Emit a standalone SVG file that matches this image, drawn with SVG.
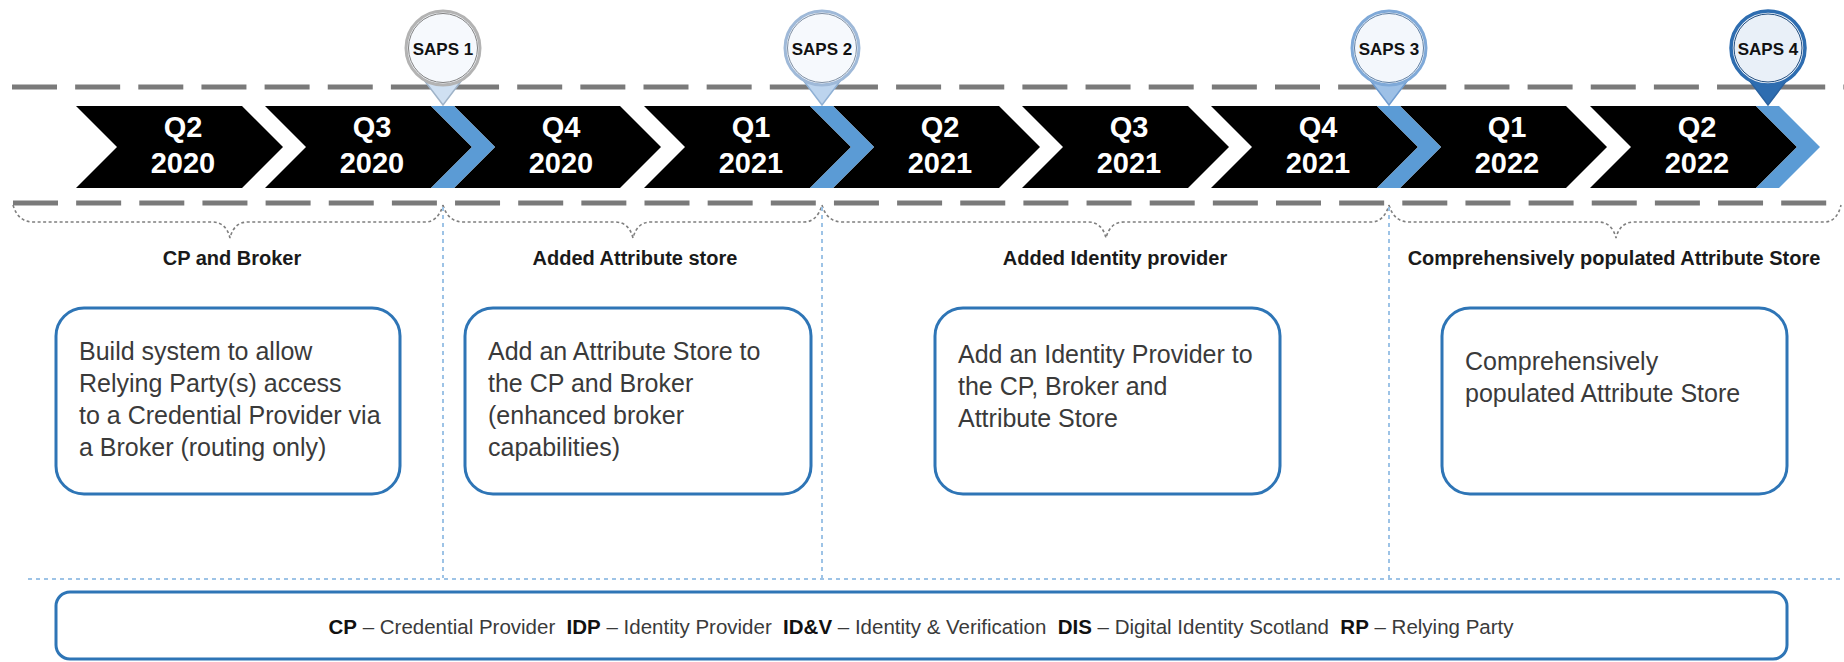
<svg xmlns="http://www.w3.org/2000/svg" width="1844" height="662" viewBox="0 0 1844 662">
<style>
.rail{stroke:#7a7a7a;stroke-width:5;stroke-dasharray:45 18.15;fill:none}
.chev{fill:#000}
.band{fill:#5b9bd5}
.q{font-family:"Liberation Sans",Arial,sans-serif;font-weight:bold;font-size:29px;fill:#fff;text-anchor:middle}
.pin-t{font-family:"Liberation Sans",Arial,sans-serif;font-weight:bold;font-size:17px;fill:#111;text-anchor:middle}
.brace{fill:none;stroke:#7f7f7f;stroke-width:1.6;stroke-dasharray:3 2.5}
.vdot{fill:none;stroke:#9dc3e6;stroke-width:2;stroke-dasharray:4 4}
.lbl{font-family:"Liberation Sans",Arial,sans-serif;font-weight:bold;font-size:20px;fill:#1a1a1a;text-anchor:middle}
.box{fill:#fff;stroke:#2e75b6;stroke-width:3}
.bt{font-family:"Liberation Sans",Arial,sans-serif;font-size:25px;fill:#3a3a3a}
.lg{font-family:"Liberation Sans",Arial,sans-serif;font-size:20.5px;fill:#3a3a3a;text-anchor:middle;white-space:pre}
.lg .b{font-weight:bold;fill:#111}
</style>

<g id="rails">
<line class="rail" x1="12" y1="87" x2="1844" y2="87"/>
<line class="rail" x1="13" y1="203" x2="1836" y2="203"/>
</g>

<g id="connectors">
<path class="brace" d="M13,205 Q18,222 33,222 L212,222 Q226,222 230,238 Q234,222 248,222 L425,222 Q438,222 443,205"/>
<path class="brace" d="M443,205 Q448,222 463,222 L615,222 Q629,222 633,238 Q637,222 651,222 L804,222 Q817,222 822,205"/>
<path class="brace" d="M822,205 Q827,222 842,222 L1088,222 Q1102,222 1106,238 Q1110,222 1124,222 L1371,222 Q1384,222 1389,205"/>
<path class="brace" d="M1389,205 Q1394,222 1409,222 L1598,222 Q1612,222 1616,238 Q1620,222 1634,222 L1824,222 Q1837,222 1841,205"/>
<line class="vdot" x1="443" y1="207" x2="443" y2="578"/>
<line class="vdot" x1="822" y1="207" x2="822" y2="578"/>
<line class="vdot" x1="1389" y1="207" x2="1389" y2="578"/>
<line class="vdot" x1="28" y1="579" x2="1844" y2="579"/>
</g>

<g id="timeline">
<g id="q2-2020"><polygon class="chev" points="76,106 242,106 283,147 242,188 76,188 117,147"/><text class="q" x="183" y="137">Q2</text><text class="q" x="183" y="173">2020</text></g>
<g id="q3-2020"><polygon class="chev" points="265,106 431,106 472,147 431,188 265,188 306,147"/><text class="q" x="372" y="137">Q3</text><text class="q" x="372" y="173">2020</text></g>
<g id="q4-2020"><polygon class="chev" points="454,106 620,106 661,147 620,188 454,188 495,147"/><text class="q" x="561" y="137">Q4</text><text class="q" x="561" y="173">2020</text></g>
<g id="q1-2021"><polygon class="chev" points="644,106 810,106 851,147 810,188 644,188 685,147"/><text class="q" x="751" y="137">Q1</text><text class="q" x="751" y="173">2021</text></g>
<g id="q2-2021"><polygon class="chev" points="833,106 999,106 1040,147 999,188 833,188 874,147"/><text class="q" x="940" y="137">Q2</text><text class="q" x="940" y="173">2021</text></g>
<g id="q3-2021"><polygon class="chev" points="1022,106 1188,106 1229,147 1188,188 1022,188 1063,147"/><text class="q" x="1129" y="137">Q3</text><text class="q" x="1129" y="173">2021</text></g>
<g id="q4-2021"><polygon class="chev" points="1211,106 1377,106 1418,147 1377,188 1211,188 1252,147"/><text class="q" x="1318" y="137">Q4</text><text class="q" x="1318" y="173">2021</text></g>
<g id="q1-2022"><polygon class="chev" points="1400,106 1566,106 1607,147 1566,188 1400,188 1441,147"/><text class="q" x="1507" y="137">Q1</text><text class="q" x="1507" y="173">2022</text></g>
<g id="q2-2022"><polygon class="chev" points="1590,106 1756,106 1797,147 1756,188 1590,188 1631,147"/><text class="q" x="1697" y="137">Q2</text><text class="q" x="1697" y="173">2022</text></g>
<polygon class="band" points="431,106 454,106 495,147 454,188 431,188 472,147"/>
<polygon class="band" points="810,106 833,106 874,147 833,188 810,188 851,147"/>
<polygon class="band" points="1377,106 1400,106 1441,147 1400,188 1377,188 1418,147"/>
<polygon class="band" points="1756,106 1779,106 1820,147 1779,188 1756,188 1797,147"/>
</g>

<g id="saps1">
<polygon points="421,76 465,76 443,105" fill="#cfe0f2" stroke="#9fb3c8" stroke-width="1.5"/>
<circle cx="443" cy="48" r="37" fill="#f6f9fd" stroke="#b3b3b3" stroke-width="3"/>
<circle cx="443" cy="48" r="34.5" fill="none" stroke="#808080" stroke-width="1"/>
<text class="pin-t" x="443" y="55">SAPS 1</text>
</g>
<g id="saps2">
<polygon points="800,76 844,76 822,105" fill="#bcd4ee" stroke="#8fb0d4" stroke-width="1.5"/>
<circle cx="822" cy="48" r="37" fill="#f6f9fd" stroke="#9fb9d8" stroke-width="3"/>
<circle cx="822" cy="48" r="34.5" fill="none" stroke="#7f8fa3" stroke-width="1"/>
<text class="pin-t" x="822" y="55">SAPS 2</text>
</g>
<g id="saps3">
<polygon points="1367,76 1411,76 1389,105" fill="#9dc0e6" stroke="#6f9cd0" stroke-width="1.5"/>
<circle cx="1389" cy="48" r="37" fill="#f3f7fc" stroke="#7fa9d8" stroke-width="3"/>
<circle cx="1389" cy="48" r="34.5" fill="none" stroke="#5f7fa3" stroke-width="1"/>
<text class="pin-t" x="1389" y="55">SAPS 3</text>
</g>
<g id="saps4">
<polygon points="1746,76 1790,76 1768,105" fill="#2e6db0" stroke="#2a62a0" stroke-width="1.5"/>
<circle cx="1768" cy="48" r="37" fill="#e9f0f8" stroke="#2e6db0" stroke-width="3.5"/>
<circle cx="1768" cy="48" r="34" fill="none" stroke="#244f80" stroke-width="1"/>
<text class="pin-t" x="1768" y="55">SAPS 4</text>
</g>

<g id="label-cp-broker"><text class="lbl" x="232" y="265">CP and Broker</text></g>
<g id="label-attr-store"><text class="lbl" x="635" y="265">Added Attribute store</text></g>
<g id="label-idp"><text class="lbl" x="1115" y="265">Added Identity provider</text></g>
<g id="label-comp"><text class="lbl" x="1614" y="265">Comprehensively populated Attribute Store</text></g>

<g id="box1">
<rect class="box" x="56" y="308" width="344" height="186" rx="28"/>
<text class="bt" x="79" y="360">Build system to allow</text>
<text class="bt" x="79" y="392">Relying Party(s) access</text>
<text class="bt" x="79" y="424">to a Credential Provider via</text>
<text class="bt" x="79" y="456">a Broker (routing only)</text>
</g>
<g id="box2">
<rect class="box" x="465" y="308" width="346" height="186" rx="28"/>
<text class="bt" x="488" y="360">Add an Attribute Store to</text>
<text class="bt" x="488" y="392">the CP and Broker</text>
<text class="bt" x="488" y="424">(enhanced broker</text>
<text class="bt" x="488" y="456">capabilities)</text>
</g>
<g id="box3">
<rect class="box" x="935" y="308" width="345" height="186" rx="28"/>
<text class="bt" x="958" y="363">Add an Identity Provider to</text>
<text class="bt" x="958" y="395">the CP, Broker and</text>
<text class="bt" x="958" y="427">Attribute Store</text>
</g>
<g id="box4">
<rect class="box" x="1442" y="308" width="345" height="186" rx="28"/>
<text class="bt" x="1465" y="370">Comprehensively</text>
<text class="bt" x="1465" y="402">populated Attribute Store</text>
</g>

<g id="legend">
<rect class="box" x="56" y="592" width="1731" height="67" rx="14"/>
<text class="lg" x="921" y="634"><tspan class="b">CP</tspan> – Credential Provider  <tspan class="b">IDP</tspan> – Identity Provider  <tspan class="b">ID&amp;V</tspan> – Identity &amp; Verification  <tspan class="b">DIS</tspan> – Digital Identity Scotland  <tspan class="b">RP</tspan> – Relying Party</text>
</g>
</svg>
